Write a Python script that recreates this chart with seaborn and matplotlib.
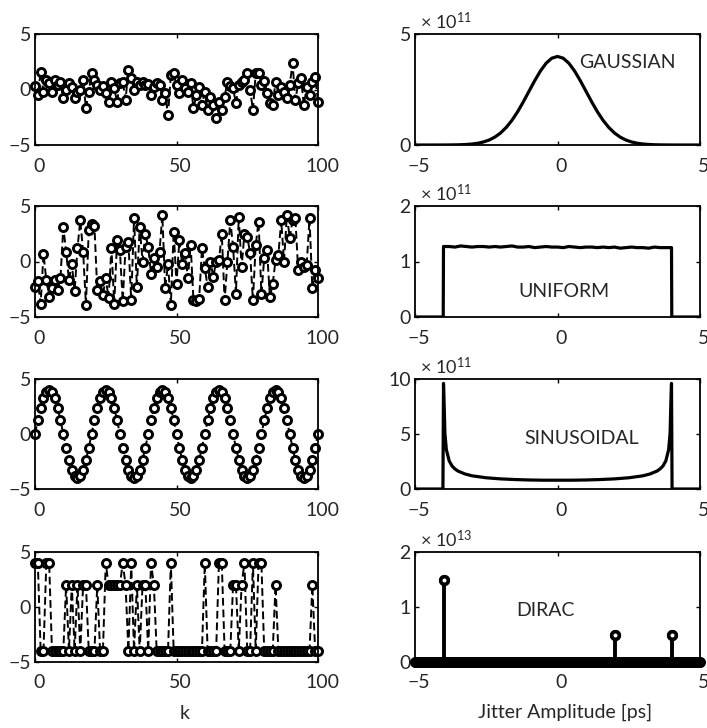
import numpy as np
import matplotlib
matplotlib.use("Agg")
import matplotlib.pyplot as plt
import matplotlib.transforms as mtransforms
import seaborn as sns

# ---------------------------------------------------------------- data
# sample index of the jitter sequences
k = list(range(101))

# jitter sequences x[k] in ps (left column)
seq_gaussian = [
    0.3, -0.5, 1.6, -0.2, 0.85, 0.55, -0.2, 0.85, 0.4, 0.7,
    -0.8, 0.0, 0.55, 0.25, -0.8, -0.2, 0.0, 0.85, -1.7, -0.2,
    1.5, 0.85, 0.4, 0.0, 0.3, -0.35, -1.1, 0.7, 0.1, -1.1,
    0.55, 0.7, -0.95, 1.8, 1.0, 0.0, 0.7, 0.4, 0.7, 0.4,
    0.5, -0.5, 0.25, 0.6, 0.4, -0.95, -0.35, -2.3, 1.3, 1.45,
    0.4, -0.35, 0.85, 0.1, -0.2, 0.55, -1.7, -0.5, 0.25, -1.4,
    -0.2, -1.85, -0.65, -1.4, -2.6, -1.1, -1.85, -0.65, 0.7, 0.3,
    0.1, -1.25, 0.4, 0.7, 0.9, 1.45, 0.0, -1.85, 1.45, 1.45,
    0.4, 0.8, -0.35, -1.25, -1.4, 0.7, -0.5, 0.25, -0.2, -0.8,
    0.4, 2.35, -0.95, 0.55, 1.0, -1.4, 0.2, -0.5, 0.7, 1.15,
    -1.1,
]
seq_uniform = [
    -2.3, -1.8, -3.8, 0.7, -1.7, -3.2, -2.4, -1.7, -2.6, -1.5,
    3.1, 0.9, -1.7, -0.2, -2.7, 1.2, 3.7, 0.9, -3.9, 2.8,
    3.4, 3.2, -2.6, -1.8, -3.0, -1.5, -3.3, 1.2, -3.8, 1.9,
    1.0, -3.6, 1.3, 1.8, -3.5, 3.9, -2.3, 3.1, 0.0, 2.5,
    1.3, -1.1, 0.3, -0.5, 0.9, 4.2, -2.4, -0.2, -3.9, 2.7,
    -2.0, 1.9, -0.2, 0.8, -1.5, 1.5, -3.5, -3.6, -3.4, 1.2,
    -0.6, -2.3, 0.0, -1.4, 0.0, 0.1, 2.5, -3.5, 0.0, 3.7,
    1.3, -2.9, 4.0, -0.5, 2.5, 2.2, 0.8, -3.5, 1.5, 3.6,
    -2.9, 0.3, 1.0, -3.2, -2.0, 0.1, 0.6, 3.7, 0.0, 4.2,
    2.1, 3.7, 3.9, -0.8, 0.0, -0.5, -0.3, 3.9, -2.4, -0.8,
    -1.5,
]
seq_sinusoidal = [
    0.0, 1.24, 2.35, 3.24, 3.8, 4.0, 3.8, 3.24, 2.35, 1.24,
    0.0, -1.24, -2.35, -3.24, -3.8, -4.0, -3.8, -3.24, -2.35, -1.24,
    0.0, 1.24, 2.35, 3.24, 3.8, 4.0, 3.8, 3.24, 2.35, 1.24,
    0.0, -1.24, -2.35, -3.24, -3.8, -4.0, -3.8, -3.24, -2.35, -1.24,
    0.0, 1.24, 2.35, 3.24, 3.8, 4.0, 3.8, 3.24, 2.35, 1.24,
    0.0, -1.24, -2.35, -3.24, -3.8, -4.0, -3.8, -3.24, -2.35, -1.24,
    0.0, 1.24, 2.35, 3.24, 3.8, 4.0, 3.8, 3.24, 2.35, 1.24,
    0.0, -1.24, -2.35, -3.24, -3.8, -4.0, -3.8, -3.24, -2.35, -1.24,
    0.0, 1.24, 2.35, 3.24, 3.8, 4.0, 3.8, 3.24, 2.35, 1.24,
    0.0, -1.24, -2.35, -3.24, -3.8, -4.0, -3.8, -3.24, -2.35, -1.24,
    0.0,
]
seq_dirac = [
    4, 4, -4, -4, 4, 4, -4, -4, -4, -4,
    -4, 2, -4, 2, -4, 2, -4, 2, 2, -4,
    -4, -4, 2, -4, -4, 4, 2, 2, 2, 2,
    2, 4, 2, -4, 4, -4, 2, -4, 2, 2,
    -4, 4, 2, -4, -4, -4, -4, -4, 4, -4,
    -4, -4, -4, -4, -4, -4, -4, -4, -4, -4,
    4, -4, -4, -4, -4, 4, 4, -4, -4, -4,
    2, 2, -4, 2, 4, -4, -4, 4, -4, 4,
    4, -4, -4, -4, -4, 2, -4, -4, -4, -4,
    -4, -4, -4, -4, -4, -4, -4, -4, 2, -4,
    -4,
]

# probability density functions (right column), jitter amplitude in ps
gauss_x = [
    -5.0, -4.8, -4.6, -4.4, -4.2, -4.0, -3.8, -3.6, -3.4, -3.2,
    -3.0, -2.8, -2.6, -2.4, -2.2, -2.0, -1.8, -1.6, -1.4, -1.2,
    -1.0, -0.8, -0.6, -0.4, -0.2, 0.0, 0.2, 0.4, 0.6, 0.8,
    1.0, 1.2, 1.4, 1.6, 1.8, 2.0, 2.2, 2.4, 2.6, 2.8,
    3.0, 3.2, 3.4, 3.6, 3.8, 4.0, 4.2, 4.4, 4.6, 4.8, 5.0,
]
gauss_pdf = [  # x 1e11
    0.0, 0.0, 0.0001, 0.0002, 0.0005, 0.0013, 0.003, 0.006, 0.012, 0.024,
    0.044, 0.079, 0.136, 0.224, 0.355, 0.540, 0.790, 1.109, 1.497, 1.942,
    2.420, 2.897, 3.332, 3.683, 3.910, 3.989, 3.910, 3.683, 3.332, 2.897,
    2.420, 1.942, 1.497, 1.109, 0.790, 0.540, 0.355, 0.224, 0.136, 0.079,
    0.044, 0.024, 0.012, 0.006, 0.003, 0.0013, 0.0005, 0.0002, 0.0001, 0.0, 0.0,
]

uniform_x = [
    -5.0, -4.01,
    -4.0, -3.8, -3.6, -3.4, -3.2, -3.0, -2.8, -2.6, -2.4, -2.2,
    -2.0, -1.8, -1.6, -1.4, -1.2, -1.0, -0.8, -0.6, -0.4, -0.2,
    0.0, 0.2, 0.4, 0.6, 0.8, 1.0, 1.2, 1.4, 1.6, 1.8,
    2.0, 2.2, 2.4, 2.6, 2.8, 3.0, 3.2, 3.4, 3.6, 3.8, 4.0,
    4.01, 5.0,
]
uniform_pdf = [  # x 1e11
    0.0, 0.0,
    1.27, 1.27, 1.26, 1.28, 1.27, 1.26, 1.27, 1.27, 1.26, 1.27,
    1.26, 1.27, 1.28, 1.26, 1.26, 1.27, 1.25, 1.26, 1.27, 1.26,
    1.26, 1.25, 1.27, 1.26, 1.25, 1.26, 1.26, 1.25, 1.26, 1.25,
    1.26, 1.24, 1.25, 1.26, 1.25, 1.25, 1.24, 1.26, 1.25, 1.25, 1.25,
    0.0, 0.0,
]

sine_x = [
    -5.0, -4.02, -4.0, -3.98, -3.95, -3.9, -3.8, -3.7, -3.6, -3.5,
    -3.25, -3.0, -2.5, -2.0, -1.5, -1.0, -0.5, 0.0, 0.5, 1.0,
    1.5, 2.0, 2.5, 3.0, 3.25, 3.5, 3.6, 3.7, 3.8, 3.9,
    3.95, 3.98, 4.0, 4.02, 5.0,
]
sine_pdf = [  # x 1e11
    0.0, 0.0, 9.6, 7.97, 5.05, 3.58, 2.55, 2.09, 1.83, 1.64,
    1.37, 1.20, 1.02, 0.92, 0.86, 0.82, 0.80, 0.80, 0.80, 0.82,
    0.86, 0.92, 1.02, 1.20, 1.37, 1.64, 1.83, 2.09, 2.55, 3.58,
    5.05, 7.97, 9.6, 0.0, 0.0,
]

dirac_bins = np.linspace(-5.0, 5.0, 251)      # histogram bin centres, ps
dirac_pos = [-4.0, 2.0, 4.0]                   # ps
dirac_pdf = [1.5, 0.5, 0.5]                    # x 1e13

left_ylim = (-5, 5)
left_yticks = [-5, 0, 5]
left_xticks = [0, 50, 100]
right_xticks = [-5, 0, 5]

right_rows = [
    dict(name="GAUSSIAN", ylim=(0, 5), yticks=[0, 5], exp="11", pos=(0.744, 0.74)),
    dict(name="UNIFORM", ylim=(0, 2), yticks=[0, 1, 2], exp="11", pos=(0.523, 0.228)),
    dict(name="SINUSOIDAL", ylim=(0, 10), yticks=[0, 5, 10], exp="11", pos=(0.584, 0.455)),
    dict(name="DIRAC", ylim=(0, 2), yticks=[0, 1, 2], exp="13", pos=(0.456, 0.464)),
]

# ---------------------------------------------------------------- style
sns.set_theme(style="white")
plt.rcParams.update({
    "font.family": ["Lato", "DejaVu Sans"],
    "mathtext.fontset": "custom",
    "mathtext.rm": "Lato",
    "mathtext.it": "Lato:italic",
    "mathtext.bf": "Lato:bold",
    "axes.edgecolor": "black",
    "axes.linewidth": 1.3,
    "axes.facecolor": "white",
    "figure.facecolor": "white",
    "text.color": "#262626",
    "axes.labelcolor": "#262626",
})

TXT = "#262626"
FS = 14

W, H = 707, 728
fig = plt.figure(figsize=(W / 100, H / 100), dpi=100)

rows_px = [(34, 145), (206, 317), (379, 489), (552, 662)]
left_px = (35, 318)
right_px = (415, 700)


def add_axes(col, row):
    x0, x1 = col
    top, bot = rows_px[row]
    return fig.add_axes([x0 / W, 1 - bot / H, (x1 - x0) / W, (bot - top) / H])


shift_x = mtransforms.ScaledTranslation(4 / 100, 0, fig.dpi_scale_trans)


def style_axes(ax, xlim, xticks, ylim, yticks):
    ax.set_xlim(*xlim)
    ax.set_ylim(*ylim)
    ax.set_xticks(xticks)
    ax.set_yticks(yticks)
    ax.set_xlabel("")
    ax.set_ylabel("")
    ax.tick_params(direction="in", length=3, width=1, colors="black",
                   labelcolor=TXT, labelsize=FS, top=True, right=True,
                   bottom=True, left=True)
    ax.tick_params(axis="x", pad=9)
    ax.tick_params(axis="y", pad=3)
    for lab in ax.get_xticklabels():
        lab.set_transform(lab.get_transform() + shift_x)
    for s in ax.spines.values():
        s.set_visible(True)
        s.set_color("black")
        s.set_linewidth(1.3)


# ---------------------------------------------------------------- left column: jitter sequences
sequences = [seq_gaussian, seq_uniform, seq_sinusoidal, seq_dirac]
left_axes = []
for r, seq in enumerate(sequences):
    ax = add_axes(left_px, r)
    sns.lineplot(x=k, y=seq, ax=ax, color="black", linewidth=1.4,
                 linestyle=(0, (4.0, 2.0)), marker="o", markersize=5.8,
                 markerfacecolor="white", markeredgecolor="black",
                 markeredgewidth=2.1, errorbar=None, clip_on=False)
    style_axes(ax, (0, 100), left_xticks, left_ylim, left_yticks)
    left_axes.append(ax)

# ---------------------------------------------------------------- right column: PDFs
right_axes = []
curves = [(gauss_x, gauss_pdf), (uniform_x, uniform_pdf), (sine_x, sine_pdf)]
for r, spec in enumerate(right_rows):
    ax = add_axes(right_px, r)
    if r < 3:
        cx, cy = curves[r]
        sns.lineplot(x=cx, y=cy, ax=ax, color="black", linewidth=2.3,
                     errorbar=None, sort=False)
    else:
        heights = np.zeros_like(dirac_bins)
        for p, h in zip(dirac_pos, dirac_pdf):
            heights[np.argmin(np.abs(dirac_bins - p))] = h
        ax.vlines(dirac_bins, 0, heights, color="black", linewidth=2.8)
        # stem heads along the whole histogram (empty bins form the base band)
        sns.lineplot(x=dirac_bins, y=heights, ax=ax, color="black",
                     linestyle="none", marker="o", markersize=5.5,
                     markerfacecolor="none", markeredgecolor="black",
                     markeredgewidth=2.4, errorbar=None, clip_on=False)
        sns.lineplot(x=dirac_pos, y=dirac_pdf, ax=ax, color="black",
                     linestyle="none", marker="o", markersize=5.5,
                     markerfacecolor="white", markeredgecolor="black",
                     markeredgewidth=2.6, errorbar=None, clip_on=False)
    style_axes(ax, (-5, 5), right_xticks, spec["ylim"], spec["yticks"])
    ax.text(spec["pos"][0], spec["pos"][1], spec["name"], transform=ax.transAxes,
            ha="center", va="center", fontsize=FS, color=TXT)
    ax.text(0.018, 1.04, "\u00d7 10$^{" + spec["exp"] + "}$", transform=ax.transAxes,
            ha="left", va="baseline", fontsize=13, color=TXT)
    right_axes.append(ax)

left_axes[-1].set_xlabel("k", fontsize=FS, color=TXT)
left_axes[-1].xaxis.set_label_coords(0.53, -0.39)
right_axes[-1].set_xlabel("Jitter Amplitude [ps]", fontsize=FS, color=TXT)
right_axes[-1].xaxis.set_label_coords(0.526, -0.38)

fig.savefig("out.png", dpi=100)
